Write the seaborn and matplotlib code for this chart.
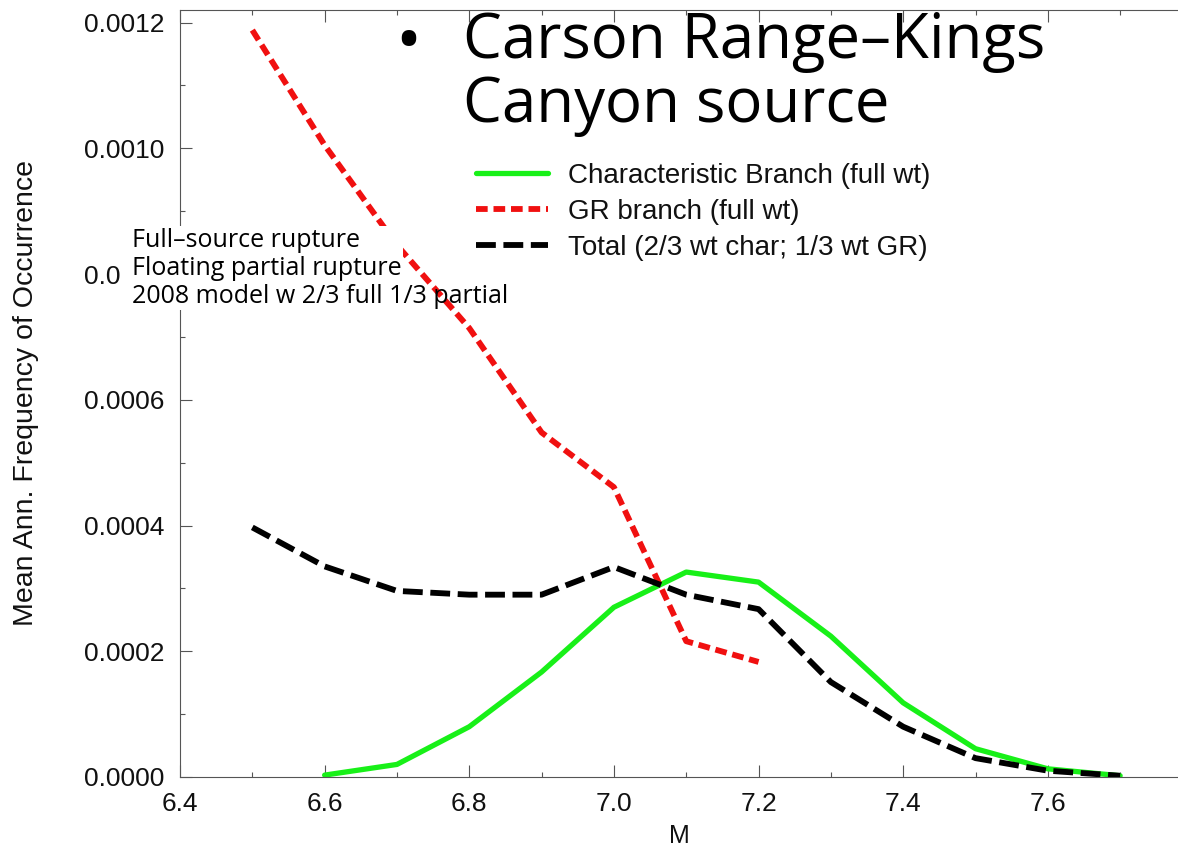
import numpy as np
import pandas as pd
import seaborn as sns
import matplotlib.pyplot as plt
from matplotlib.patches import Rectangle
from matplotlib.ticker import MultipleLocator

# magnitudes
m_gr = [6.5, 6.6, 6.7, 6.8, 6.9, 7.0, 7.1, 7.2]
m_char = [6.6, 6.7, 6.8, 6.9, 7.0, 7.1, 7.2, 7.3, 7.4, 7.5, 7.6, 7.7]
m_total = [6.5, 6.6, 6.7, 6.8, 6.9, 7.0, 7.1, 7.2, 7.3, 7.4, 7.5, 7.6, 7.7]

# rates
gr_rate = [0.001188, 0.001005, 0.000846, 0.000714, 0.000548, 0.000461, 0.000216, 0.000183]
char_rate = [0.000003, 0.000020, 0.000080, 0.000167, 0.000270, 0.000326, 0.000310,
             0.000224, 0.000118, 0.000045, 0.000013, 0.000002]
total_rate = [0.000397, 0.000335, 0.000296, 0.000290, 0.000290, 0.000334, 0.000290,
              0.000267, 0.000151, 0.000080, 0.000030, 0.000010, 0.000002]

labels = ['Characteristic Branch (full wt)', 'GR branch (full wt)', 'Total (2/3 wt char; 1/3 wt GR)']
notes = ['Full\u2013source rupture', 'Floating partial rupture', '2008 model w 2/3 full 1/3 partial']

sns.set_style('ticks')
plt.rcParams['font.family'] = ['Liberation Sans', 'DejaVu Sans']
plt.rcParams['text.color'] = 'black'
plt.rcParams['axes.labelcolor'] = '#111111'

W, H = 1178, 851
fig = plt.figure(figsize=(W / 100, H / 100), dpi=100)
ax = fig.add_axes([180 / W, 1 - 777 / H, 1 - 180 / W, 767 / H])

df_char = pd.DataFrame({'M': m_char, 'rate': char_rate})
df_gr = pd.DataFrame({'M': m_gr, 'rate': gr_rate})
df_tot = pd.DataFrame({'M': m_total, 'rate': total_rate})

sns.lineplot(data=df_char, x='M', y='rate', ax=ax, color='#18f018', lw=3.8, label=labels[0])
sns.lineplot(data=df_gr, x='M', y='rate', ax=ax, color='#f01010', lw=4.2, label=labels[1])
sns.lineplot(data=df_tot, x='M', y='rate', ax=ax, color='black', lw=4.2, label=labels[2])
ax.lines[1].set_dashes([2.0, 1.0])
ax.lines[2].set_dashes([3.4, 1.3])

ax.xaxis.set_major_locator(MultipleLocator(0.2))
ax.xaxis.set_minor_locator(MultipleLocator(0.1))
ax.yaxis.set_major_locator(MultipleLocator(0.0002))
ax.yaxis.set_minor_locator(MultipleLocator(0.0001))
ax.set_xlim(6.4, 7.78)
ax.set_ylim(0, 0.00122)
ax.xaxis.set_major_formatter(lambda v, pos: f'{v:.1f}')
ax.yaxis.set_major_formatter(lambda v, pos: f'{v:.4f}')
ax.tick_params(which='both', direction='in', top=True, labelsize=19, color='#555555',
               labelcolor='#111111', width=0.8)
ax.tick_params(which='major', length=8.5, pad=11)
ax.tick_params(which='minor', length=3.5)
for s in ['left', 'bottom', 'top']:
    ax.spines[s].set_visible(True)
    ax.spines[s].set_color('#555555')
ax.spines['right'].set_visible(False)

ax.set_xlabel('M', fontsize=18)
ax.xaxis.set_label_coords(0.5, -(824 - 777) / 767)
ax.set_ylabel('Mean Ann. Frequency of Occurrence', fontsize=20.5)
ax.yaxis.set_label_coords((39 - 180) / 998, 0.5)

leg = ax.legend(loc='upper left', bbox_to_anchor=(476 / W, 1 - 163 / H), bbox_transform=fig.transFigure,
                frameon=False, fontsize=20, borderpad=0, borderaxespad=0,
                handlelength=2.6, labelspacing=0.36, handletextpad=0.72)
for t in leg.get_texts():
    t.set_color('#111111')

fig.text(395 / W, 1 - 63 / H, '\u2022', fontsize=50, va='baseline', ha='left',
         family=['Open Sans', 'DejaVu Sans'])
# baseline of the last line
fig.text(463 / W, 1 - 122 / H, 'Carson Range\u2013Kings\nCanyon source', fontsize=44.5, va='baseline',
         ha='left', linespacing=1.03, family=['Open Sans', 'DejaVu Sans'])

fig.patches.append(Rectangle((120 / W, 1 - 310 / H), 283 / W, 84 / H,
                             transform=fig.transFigure, facecolor='white', edgecolor='none', zorder=5))
fig.text(132 / W, 1 - 303 / H, '\n'.join(notes), fontsize=18, va='baseline', ha='left',
         linespacing=1.15, family=['Open Sans', 'DejaVu Sans'], zorder=6)

fig.savefig('out.png', dpi=100)
